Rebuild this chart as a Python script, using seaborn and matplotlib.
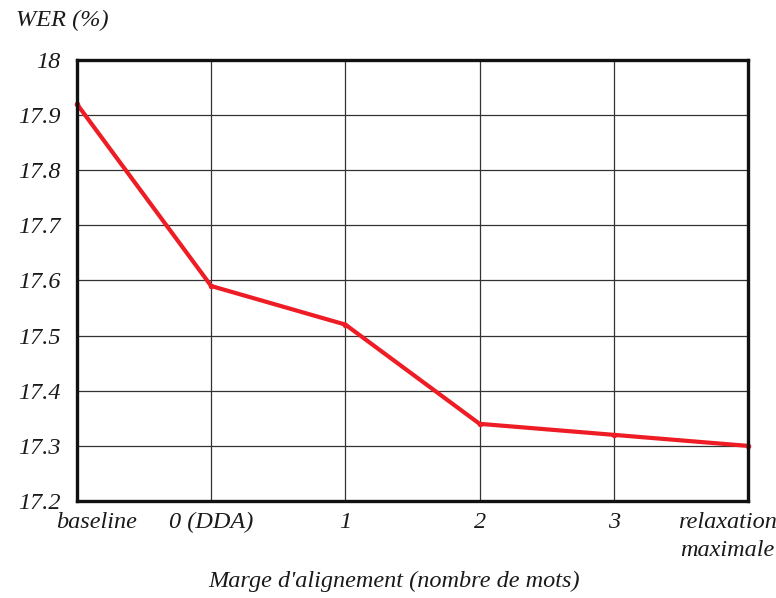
import matplotlib
matplotlib.use('Agg')
import matplotlib.pyplot as plt
import matplotlib.transforms as mtransforms
import seaborn as sns
import pandas as pd

categories = ['baseline', '0 (DDA)', '1', '2', '3', 'relaxation\nmaximale']
wer = [17.92, 17.59, 17.52, 17.34, 17.32, 17.30]
y_ticks = [17.2, 17.3, 17.4, 17.5, 17.6, 17.7, 17.8, 17.9, 18]
y_labels = ['17.2', '17.3', '17.4', '17.5', '17.6', '17.7', '17.8', '17.9', '18']

df = pd.DataFrame({'pos': range(len(categories)), 'wer': wer})

sns.set_style('white')
plt.rcParams['font.family'] = ['Liberation Serif', 'DejaVu Serif']
plt.rcParams['font.style'] = 'italic'
fs = 17.5

fig = plt.figure(figsize=(7.76, 5.98), dpi=100)
ax = fig.add_axes([0.0992, 0.1622, 0.8647, 0.7375])

sns.lineplot(data=df, x='pos', y='wer', ax=ax, color='#ee1c24', linewidth=3,
             marker='o', markersize=4, markeredgewidth=0, zorder=5, clip_on=False)

ax.set_xlim(0, len(categories) - 1)
ax.set_ylim(17.2, 18)
ax.set_xticks(range(len(categories)))
ax.set_xticklabels(categories, fontsize=fs, style='italic', linespacing=1.4, color='#1a1a1a')
ax.set_yticks(y_ticks)
ax.set_yticklabels(y_labels, fontsize=fs, style='italic', color='#1a1a1a')
ax.tick_params(axis='y', length=0, pad=12)
ax.tick_params(axis='x', length=0, pad=8)

# shift the end labels inward like the original
xl = ax.get_xticklabels()
xl[0].set_transform(xl[0].get_transform() + mtransforms.ScaledTranslation(20 / 100, 0, fig.dpi_scale_trans))
xl[-1].set_transform(xl[-1].get_transform() + mtransforms.ScaledTranslation(-21 / 100, 0, fig.dpi_scale_trans))

ax.grid(True, color='#333333', linewidth=0.9)
for s in ax.spines.values():
    s.set_color('#111111')
    s.set_linewidth(2.4)
    s.set_zorder(6)

ax.set_xlabel('')
ax.set_ylabel('')
fig.text(0.508, 0.028, "Marge d'alignement (nombre de mots)", fontsize=fs, style='italic',
         ha='center', va='center', color='#1a1a1a')
fig.text(0.02, 0.965, 'WER (%)', fontsize=fs, style='italic', va='center', ha='left', color='#1a1a1a')

fig.savefig('out.png', dpi=100)
